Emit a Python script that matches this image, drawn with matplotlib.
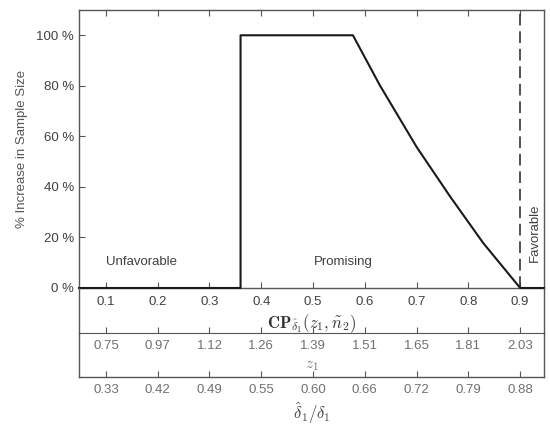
import matplotlib
matplotlib.use('Agg')
import matplotlib.pyplot as plt

plt.rcParams['font.family'] = ['Liberation Sans', 'DejaVu Sans']
plt.rcParams['mathtext.fontset'] = 'cm'

# data
cp = [0.048, 0.36, 0.36, 0.577, 0.629, 0.700, 0.765, 0.829, 0.90, 0.946]
increase = [0, 0, 100, 100, 80.2, 55.8, 36.1, 17.7, 0, 0]

cp_ticks = [0.1, 0.2, 0.3, 0.4, 0.5, 0.6, 0.7, 0.8, 0.9]
cp_labels = ['0.1', '0.2', '0.3', '0.4', '0.5', '0.6', '0.7', '0.8', '0.9']
z1_labels = ['0.75', '0.97', '1.12', '1.26', '1.39', '1.51', '1.65', '1.81', '2.03']
ratio_labels = ['0.33', '0.42', '0.49', '0.55', '0.60', '0.66', '0.72', '0.79', '0.88']
y_ticks = [0, 20, 40, 60, 80, 100]
y_labels = ['0 %', '20 %', '40 %', '60 %', '80 %', '100 %']
favorable_cut = 0.9

W, H = 550, 425


def rect(l, t, r, b):
    return [l / W, 1 - b / H, (r - l) / W, (b - t) / H]


fig = plt.figure(figsize=(5.5, 4.25), dpi=100)
ax = fig.add_axes(rect(79, 10, 544, 288))
ax2 = fig.add_axes(rect(79, 288, 544, 333), facecolor='none')
ax3 = fig.add_axes(rect(79, 333, 544, 376.7), facecolor='none')

spine_c = '#555555'
xlim = (0.048, 0.946)

# main panel
ax.plot(cp, increase, color='#1a1a1a', lw=1.5, clip_on=False, zorder=3)
ax.plot([favorable_cut, favorable_cut], [0, 110], color='#333333', lw=1.2,
        ls=(0, (7, 3.5)))
ax.set_xlim(*xlim)
ax.set_ylim(0, 110)
ax.set_xticks(cp_ticks)
ax.set_xticklabels(cp_labels)
ax.set_yticks(y_ticks)
ax.set_yticklabels(y_labels)
ax.tick_params(direction='in', top=True, right=False, length=4, width=0.8,
               color=spine_c, labelsize=9.5, labelcolor='#404040')
ax.tick_params(axis='x', pad=6)
for s in ax.spines.values():
    s.set_color(spine_c)
    s.set_linewidth(1.0)
ax.set_ylabel('% Increase in Sample Size', fontsize=9.5, color='#555555',
              labelpad=6)
ax.set_xlabel(r'$\mathbf{CP}_{\hat{\delta}_1}(z_1,\tilde{n}_2)$', fontsize=12,
              color='#333333', labelpad=3)
ax.text(0.168, 10.3, 'Unfavorable', fontsize=9.5, color='#404040',
        ha='center', va='center')
ax.text(0.558, 10.3, 'Promising', fontsize=9.5, color='#404040',
        ha='center', va='center')
ax.text(0.929, 21.7, 'Favorable', fontsize=9.5, color='#404040',
        ha='center', va='center', rotation=90)

# z1 and delta-ratio bands
for a, labels in ((ax2, z1_labels), (ax3, ratio_labels)):
    a.set_xlim(*xlim)
    a.set_ylim(0, 1)
    a.set_yticks([])
    a.set_xticks(cp_ticks)
    a.set_xticklabels(labels)
    a.spines['top'].set_visible(False)
    for s in ('left', 'right', 'bottom'):
        a.spines[s].set_color(spine_c)
        a.spines[s].set_linewidth(1.0)
    a.tick_params(axis='x', direction='in', length=4, width=0.8, color=spine_c,
                  labelsize=9.5, labelcolor='#707070', pad=5)

ax2.spines['bottom'].set_linewidth(0.8)
ax2.set_xlabel(r'$z_1$', fontsize=11, color='#707070', labelpad=5)
ax3.set_xlabel(r'$\hat{\delta}_1/\delta_1$', fontsize=12, color='#404040',
               labelpad=3)

fig.savefig('out.png', dpi=100)
